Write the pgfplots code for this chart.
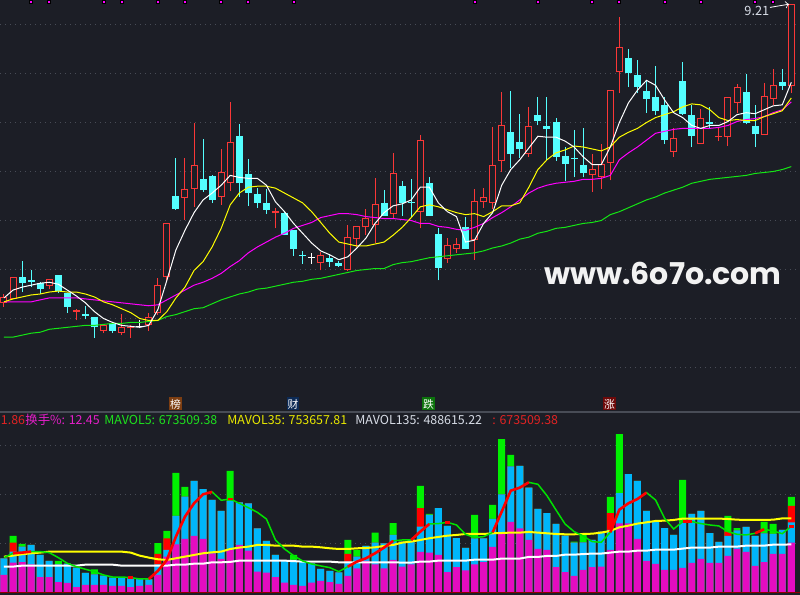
\documentclass[border=0pt]{standalone}
\usepackage{pgfplots}
\pgfplotsset{compat=1.18}
\usepackage{pgfplotstable}
\usepackage{fontspec}
\newfontfamily\cjk{Noto Sans CJK SC}
\newfontfamily\wm{Poppins}

\definecolor{bg}{RGB}{28,30,38}
\definecolor{gridc}{RGB}{72,76,86}
\definecolor{upred}{RGB}{250,55,55}
\definecolor{dncyan}{RGB}{84,255,255}
\definecolor{mayel}{RGB}{255,255,0}
\definecolor{mamag}{RGB}{255,0,255}
\definecolor{magrn}{RGB}{20,230,20}
\definecolor{vmag}{RGB}{228,12,192}
\definecolor{vcyan}{RGB}{0,182,250}
\definecolor{vgrn}{RGB}{0,240,0}
\definecolor{vred}{RGB}{255,0,0}
\definecolor{lgrn}{RGB}{0,225,0}
\definecolor{txtgray}{RGB}{215,220,230}

% candles: i open high low close (price)
\pgfplotstableread{
i o h l c
0 6.16 6.25 6.12 6.22
1 6.20 6.42 6.20 6.42
5 6.33 6.40 6.30 6.40
8 6.07 6.10 5.98 6.09
11 5.87 5.93 5.85 5.93
13 5.85 6.05 5.83 5.91
14 5.90 5.93 5.80 5.91
16 5.93 6.06 5.87 6.02
17 6.06 6.41 6.04 6.34
18 6.42 6.97 6.37 6.97
20 7.23 7.64 7.01 7.32
21 7.32 8.00 7.14 7.57
24 7.24 7.73 7.16 7.50
25 7.38 8.21 7.30 7.80
30 7.08 7.13 6.92 7.10
35 6.57 6.68 6.49 6.65
38 6.50 6.95 6.48 6.83
39 6.81 6.94 6.73 6.94
40 6.93 7.12 6.85 7.03
41 6.95 7.43 6.77 7.17
43 7.07 7.69 7.02 7.48
46 7.09 7.87 6.92 7.82
49 6.61 6.82 6.57 6.75
50 6.71 6.82 6.67 6.76
52 6.80 7.32 6.60 7.20
53 7.19 7.33 7.13 7.24
54 7.18 7.95 7.12 7.57
55 7.61 8.31 7.50 7.97
58 7.68 8.16 7.65 7.96
65 7.46 7.68 7.29 7.53
66 7.44 7.78 7.32 7.58
67 7.59 8.33 7.41 8.33
68 8.52 9.08 8.30 8.77
74 7.70 7.94 7.65 7.84
77 7.78 8.14 7.78 8.05
79 7.85 7.94 7.81 7.86
80 7.85 8.26 7.76 8.26
81 8.20 8.39 8.10 8.36
84 7.87 8.40 7.87 8.27
85 8.24 8.55 8.18 8.38
87 8.37 9.21 8.30 9.21
}\up

\pgfplotstableread{
i o h l c
2 6.42 6.59 6.27 6.36
3 6.39 6.49 6.32 6.37
4 6.36 6.37 6.25 6.30
6 6.44 6.44 6.26 6.28
7 6.26 6.26 6.06 6.12
9 6.05 6.13 5.99 6.03
10 6.02 6.02 5.80 5.91
12 5.95 5.95 5.85 5.87
19 7.25 7.64 7.11 7.12
22 7.42 7.83 7.29 7.31
23 7.45 7.46 7.18 7.21
26 7.86 7.98 7.24 7.38
27 7.47 7.63 7.15 7.28
28 7.27 7.33 7.13 7.18
29 7.18 7.32 7.07 7.11
31 7.08 7.09 6.85 6.85
32 6.90 6.90 6.64 6.71
33 6.65 6.69 6.56 6.64
36 6.62 6.65 6.53 6.58
37 6.57 6.59 6.53 6.54
42 7.18 7.31 7.05 7.05
44 7.35 7.40 7.05 7.18
45 7.19 7.42 7.04 7.18
47 7.38 7.44 7.05 7.05
48 6.86 6.92 6.39 6.52
51 6.93 7.04 6.71 6.71
56 7.90 8.32 7.54 7.68
57 7.80 8.09 7.64 7.73
59 8.08 8.26 7.97 8.02
60 7.96 8.26 7.62 7.93
61 8.01 8.05 7.61 7.65
62 7.66 7.75 7.40 7.58
63 7.64 7.92 7.44 7.63
64 7.57 7.94 7.44 7.48
69 8.66 8.75 8.36 8.51
70 8.48 8.64 8.30 8.36
71 8.32 8.43 8.10 8.24
72 8.26 8.58 8.08 8.12
73 8.18 8.26 7.78 7.82
75 8.42 8.62 8.08 8.09
76 8.08 8.18 7.75 7.86
78 8.01 8.16 7.94 7.98
82 8.31 8.50 7.98 7.99
83 7.96 8.18 7.75 7.88
86 8.41 8.55 8.33 8.37
}\down

\pgfplotstableread{
i o h l c
15 5.92 5.98 5.90 5.92
34 6.62 6.67 6.56 6.62
}\flat

% moving averages of price: white, yellow, magenta, green
\pgfplotstableread{
i w y m g
0 6.21 6.17 6.17 5.81
1 6.29 6.20 6.17 5.81
2 6.32 6.22 6.17 5.83
3 6.34 6.24 6.17 5.85
4 6.36 6.25 6.19 5.86
5 6.37 6.27 6.21 5.89
6 6.35 6.28 6.21 5.90
7 6.29 6.27 6.21 5.91
8 6.23 6.27 6.21 5.92
9 6.16 6.25 6.20 5.93
10 6.07 6.22 6.19 5.93
11 6.00 6.17 6.18 5.94
12 5.96 6.14 6.17 5.95
13 5.93 6.10 6.16 5.95
14 5.92 6.06 6.15 5.96
15 5.91 6.00 6.14 5.96
16 5.93 5.98 6.13 5.97
17 6.09 5.98 6.14 5.98
18 6.39 6.07 6.19 6.02
19 6.70 6.21 6.24 6.04
20 6.90 6.32 6.29 6.07
21 7.08 6.49 6.34 6.10
22 7.21 6.58 6.37 6.11
23 7.28 6.73 6.41 6.15
24 7.36 6.92 6.46 6.19
25 7.46 7.16 6.53 6.22
26 7.44 7.28 6.59 6.25
27 7.43 7.34 6.67 6.27
28 7.43 7.35 6.73 6.30
29 7.36 7.35 6.78 6.31
30 7.19 7.33 6.83 6.33
31 7.09 7.28 6.87 6.35
32 6.97 7.23 6.92 6.37
33 6.87 7.18 6.95 6.38
34 6.77 7.09 6.98 6.40
35 6.69 6.98 7.03 6.41
36 6.65 6.87 7.05 6.43
37 6.60 6.78 7.07 6.45
38 6.63 6.76 7.07 6.47
39 6.72 6.74 7.06 6.49
40 6.82 6.74 7.04 6.50
41 6.97 6.76 7.03 6.51
42 7.08 6.78 7.02 6.51
43 7.15 6.85 7.02 6.55
44 7.17 6.93 7.01 6.57
45 7.21 7.03 7.00 6.58
46 7.34 7.14 6.97 6.60
47 7.34 7.16 6.97 6.62
48 7.18 7.14 6.94 6.63
49 7.09 7.11 6.93 6.64
50 7.04 7.08 6.91 6.65
51 6.78 7.06 6.90 6.66
52 6.80 7.07 6.93 6.67
53 6.97 7.04 6.97 6.69
54 7.08 7.09 7.03 6.72
55 7.36 7.15 7.08 6.74
56 7.52 7.15 7.14 6.77
57 7.62 7.18 7.21 6.81
58 7.74 7.34 7.28 6.83
59 7.86 7.52 7.33 6.87
60 7.85 7.62 7.36 6.89
61 7.85 7.69 7.38 6.92
62 7.81 7.72 7.39 6.93
63 7.75 7.76 7.40 6.95
64 7.65 7.75 7.42 6.97
65 7.57 7.73 7.42 6.98
66 7.57 7.71 7.43 7.00
67 7.75 7.75 7.46 7.06
68 8.00 7.85 7.62 7.09
69 8.20 7.90 7.69 7.13
70 8.33 7.94 7.75 7.17
71 8.43 8.00 7.82 7.21
72 8.38 8.05 7.89 7.24
73 8.23 8.08 7.91 7.28
74 8.10 8.11 7.93 7.31
75 8.05 8.16 7.94 7.34
76 7.97 8.19 7.94 7.38
77 7.94 8.18 7.94 7.40
78 7.97 8.13 7.94 7.42
79 7.97 8.05 7.95 7.43
80 8.01 8.02 7.97 7.44
81 8.08 8.03 8.01 7.45
82 8.10 8.02 8.03 7.46
83 8.09 8.02 8.04 7.48
84 8.13 8.06 8.06 7.49
85 8.17 8.09 8.10 7.50
86 8.18 8.12 8.13 7.52
87 8.41 8.25 8.21 7.55
}\ma

% volume (thousands): top of green, red, cyan and magenta parts
\pgfplotstableread{
i g r c m
0 347 347 347 177
1 575 507 415 303
2 493 466 466 309
3 483 483 483 286
4 381 381 381 156
5 320 320 320 156
6 320 286 286 105
7 292 292 292 95
8 252 252 252 54
9 197 197 197 75
10 235 184 184 75
11 170 170 170 75
12 150 150 150 65
13 150 150 150 65
14 143 143 143 54
15 136 136 136 65
16 133 133 133 75
17 503 391 286 177
18 626 551 432 364
19 1218 779 779 490
20 1075 976 976 544
21 1136 1136 1136 575
22 1054 1054 1054 544
23 942 942 942 398
24 830 830 830 340
25 1238 932 932 432
26 918 918 918 483
27 908 908 908 425
28 653 653 653 211
29 524 524 524 201
30 381 381 381 156
31 320 320 320 99
32 381 330 330 75
33 313 313 313 65
34 296 296 296 99
35 238 238 238 116
36 218 218 218 105
37 204 204 204 85
38 534 391 313 167
39 432 364 364 245
40 473 473 473 320
41 609 507 507 286
42 500 500 500 245
43 707 585 585 330
44 517 517 517 262
45 541 541 541 286
46 1085 860 670 412
47 799 789 789 405
48 860 860 860 381
49 677 677 677 207
50 554 554 554 258
51 452 452 452 224
52 789 551 551 286
53 551 551 551 309
54 891 748 748 463
55 1564 1000 1000 609
56 1401 1286 1286 718
57 1289 1289 1289 653
58 1068 1068 1068 534
59 850 850 850 442
60 809 809 809 432
61 697 697 697 258
62 578 578 578 207
63 517 507 507 167
64 585 510 510 228
65 534 534 534 258
66 619 619 619 262
67 973 809 636 432
68 1615 1013 1013 704
69 1207 1207 1207 704
70 1136 1136 1136 544
71 830 830 830 320
72 721 721 721 289
73 656 656 656 228
74 585 585 585 228
75 1146 714 714 248
76 799 799 799 299
77 830 830 830 340
78 605 605 605 299
79 514 514 514 299
80 779 619 575 371
81 656 633 633 442
82 667 667 667 412
83 575 575 575 269
84 718 602 602 309
85 697 595 595 391
86 636 636 636 391
87 973 881 714 507
}\vol

% MAVOL5, MAVOL35, MAVOL135 (thousands)
\pgfplotstableread{
i v5 v35 v135
0 354 364 262
1 398 374 262
2 405 388 272
3 415 398 272
4 415 405 272
5 405 415 272
6 354 415 272
7 296 415 272
8 262 415 272
9 235 415 282
10 211 415 282
11 177 415 282
12 156 415 282
13 156 415 272
14 150 405 272
15 136 374 272
16 136 354 272
17 218 337 272
18 330 330 272
19 568 347 282
20 772 364 282
21 908 381 292
22 1000 398 292
23 1024 408 306
24 939 415 306
25 952 442 310
26 908 456 323
27 864 466 323
28 816 483 323
29 748 483 323
30 534 476 323
31 442 476 323
32 374 476 318
33 320 466 313
34 289 466 313
35 269 459 313
36 252 449 313
37 211 442 306
38 262 442 306
39 313 449 306
40 347 452 306
41 398 459 306
42 456 473 306
43 524 483 306
44 534 507 303
45 534 517 303
46 619 534 313
47 697 551 313
48 701 565 323
49 714 578 323
50 687 585 323
51 592 595 323
52 558 595 333
53 568 595 333
54 612 602 333
55 823 605 344
56 1037 609 344
57 1068 609 344
58 1122 616 361
59 1102 609 361
60 986 602 371
61 840 595 371
62 697 592 384
63 619 592 384
64 575 595 390
65 517 598 395
66 510 609 395
67 612 626 405
68 843 663 415
69 908 680 415
70 952 701 425
71 1017 714 425
72 942 728 435
73 755 731 435
74 646 738 435
75 721 752 446
76 721 752 456
77 701 752 456
78 687 752 456
79 677 752 466
80 619 748 466
81 592 741 466
82 585 738 476
83 602 738 476
84 643 738 476
85 626 741 486
86 598 754 486
87 674 754 489
}\vl

\pgfplotsset{
  panel/.style={
    scale only axis, width=400pt,
    xmin=-0.44, xmax=87.96,
    axis line style={draw=none}, tick style={draw=none},
    major tick length=0pt,
    xtick=\empty, yticklabels={},
    ymajorgrids,
    grid style={gridc, line width=0.5pt, dash pattern=on 0.5pt off 2pt},
  },
  % candle parts are thick error bars; the plot itself draws nothing
  cbar/.style 2 args={draw=none, mark=none, forget plot,
    error bars/.cd, y dir=plus, y explicit, error mark=none,
    error bar style={draw=#1, line width=#2}},
  vbar/.style={ybar, bar width=0.77, bar shift=0pt, fill=#1, draw=none},
}

\begin{document}
\begin{tikzpicture}[x=1pt, y=1pt]
\fill[bg] (0,-91.5) rectangle (400,206);

% price panel
\begin{axis}[panel, at={(0,0)}, anchor=south west, height=206pt,
  ymin=5.046, ymax=9.25, ytick={5.5,6,...,9}]
\addplot[cbar={upred}{0.5pt}] table[x=i, y=l, y error expr=\thisrow{h}-\thisrow{l}]{\up};
\addplot[cbar={upred}{3.5pt}] table[x=i, y=o, y error expr=\thisrow{c}-\thisrow{o}]{\up};
\addplot[cbar={bg}{2.5pt}] table[x=i, y expr=\thisrow{o}+0.0102, y error expr={max(\thisrow{c}-\thisrow{o}-0.0204,0)}]{\up};
\addplot[cbar={dncyan}{0.5pt}] table[x=i, y=l, y error expr=\thisrow{h}-\thisrow{l}]{\down};
\addplot[cbar={dncyan}{3.5pt}] table[x=i, y=c, y error expr=\thisrow{o}-\thisrow{c}]{\down};
\addplot[cbar={white}{0.5pt}] table[x=i, y=l, y error expr=\thisrow{h}-\thisrow{l}]{\flat};
\addplot[only marks, mark=-, mark size=1.75pt, mark options={white, line width=0.5pt}] table[x=i, y=o]{\flat};

\addplot[magrn, line width=0.5pt] table[x=i, y=g]{\ma};
\addplot[mamag, line width=0.5pt] table[x=i, y=m]{\ma};
\addplot[mayel, line width=0.5pt] table[x=i, y=y]{\ma};
\addplot[white, line width=0.5pt] table[x=i, y=w]{\ma};

\addplot[only marks, mark=square*, mark size=0.75pt, mark options={fill=mamag, draw=none}]
  coordinates {(3,9.227)(5,9.227)(11,9.227)(13,9.227)(17,9.227)(20,9.227)(24,9.227)
  (27,9.227)(32,9.227)(52,9.227)(59,9.227)(65,9.227)(68,9.227)(73,9.227)(77,9.227)
  (83,9.227)(85,9.227)};
\end{axis}

% volume panel
\begin{axis}[panel, at={(0,0)}, anchor=north west, height=91.5pt,
  ymin=-27.6, ymax=1839.8, ytick={500,1000,1500}]
\addplot[vbar=vgrn] table[x=i, y=g]{\vol};
\addplot[vbar=vred] table[x=i, y=r]{\vol};
\addplot[vbar=vcyan] table[x=i, y=c]{\vol};
\addplot[vbar=vmag] table[x=i, y=m]{\vol};
\draw[red!55!black, line width=0.6pt] (axis cs:-1,-4) -- (axis cs:89,-4);

\addplot[white, line width=1pt] table[x=i, y=v135]{\vl};
\addplot[mayel, line width=1pt] table[x=i, y=v35]{\vl};
\addplot[lgrn, line width=0.75pt] table[x=i, y=v5]{\vl};
\addplot[vred, line width=1.3pt, restrict x to domain=1:3] table[x=i, y=v5]{\vl};
\addplot[vred, line width=1.3pt, restrict x to domain=16:23] table[x=i, y=v5]{\vl};
\addplot[vred, line width=1.3pt, restrict x to domain=38:43] table[x=i, y=v5]{\vl};
\addplot[vred, line width=1.3pt, restrict x to domain=45:47] table[x=i, y=v5]{\vl};
\addplot[vred, line width=1.3pt, restrict x to domain=54:58] table[x=i, y=v5]{\vl};
\addplot[vred, line width=1.3pt, restrict x to domain=67:71] table[x=i, y=v5]{\vl};
\addplot[vred, line width=1.3pt, restrict x to domain=75:76] table[x=i, y=v5]{\vl};
\addplot[vred, line width=1.3pt, restrict x to domain=83:84] table[x=i, y=v5]{\vl};
\addplot[only marks, mark=-, mark size=1.2pt, mark options={vred, line width=1.3pt}]
  coordinates {(14,150)(25,952)(49,714)(87,674)};
\end{axis}

% separator between panels
\draw[gridc, line width=0.6pt] (0,0) -- (400,0);

% event labels
\begin{scope}[every node/.style={inner sep=0pt, minimum width=6.2pt, minimum height=6.5pt,
  text=white, font=\cjk\fontsize{5.4}{6}\selectfont}]
\node[fill={rgb,255:red,125;green,62;blue,18}] at (87.75,4) {榜};
\node[fill={rgb,255:red,12;green,42;blue,85}] at (146.5,4) {财};
\node[fill={rgb,255:red,12;green,115;blue,12}] at (214.25,4) {跌};
\node[fill={rgb,255:red,110;green,10;blue,10}] at (304.75,4) {涨};
\end{scope}

% indicator readout
\begin{scope}[every node/.style={inner sep=0pt, anchor=base west, font=\cjk\fontsize{6.2}{7}\selectfont}]
\node[text={rgb,255:red,225;green,35;blue,35}] at (0.3,-6.5) {1.86};
\node[text={rgb,255:red,228;green,30;blue,200}] at (12.5,-6.5) {换手\%: 12.45};
\node[text={rgb,255:red,30;green,225;blue,30}] at (52,-6.5) {MAVOL5: 673509.38};
\node[text={rgb,255:red,232;green,232;blue,0}] at (113.5,-6.5) {MAVOL35: 753657.81};
\node[text=txtgray] at (177.5,-6.5) {MAVOL135: 488615.22};
\node[text={rgb,255:red,225;green,35;blue,35}] at (246,-6.5) {: 673509.38};
\node[text=txtgray, font=\cjk\fontsize{6.4}{7}\selectfont] at (372,198) {9.21};
\end{scope}
\draw[->, white, line width=0.4pt] (385,202.3) -- (394.5,203.9);

% watermark
\node[anchor=base west, inner sep=0pt, text={rgb,255:red,242;green,242;blue,242},
  font=\wm\bfseries\fontsize{15}{16}\selectfont] at (272,63.5) {www.6o7o.com};

\pgfresetboundingbox
\path[use as bounding box] (0,-91.5) rectangle (400,206);
\end{tikzpicture}
\end{document}
